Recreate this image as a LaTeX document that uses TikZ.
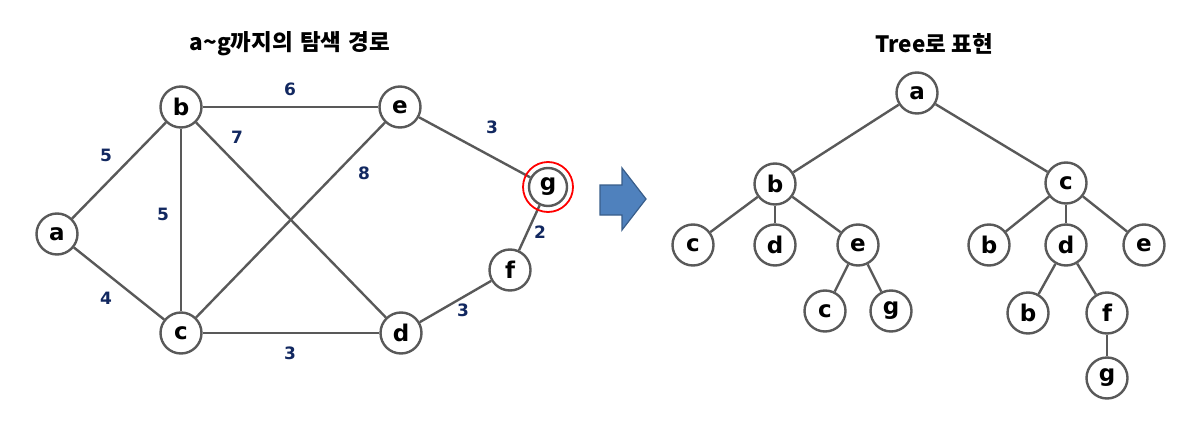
\documentclass[tikz,border=0pt]{standalone}
\usepackage{fontspec}
\setmainfont{DejaVu Sans}[BoldFont={DejaVu Sans Bold}]
\newfontfamily\kofont{Noto Sans CJK KR}
\usetikzlibrary{backgrounds}
\definecolor{edgegray}{RGB}{89,89,89}
\definecolor{labnavy}{RGB}{18,40,96}
\definecolor{arrowblue}{RGB}{79,129,189}
\definecolor{arrowedge}{RGB}{56,93,138}
\begin{document}
\begin{tikzpicture}[x=1pt,y=-1pt,
  vtx/.style={circle,draw=edgegray,line width=2.4pt,fill=white,minimum size=41pt,inner sep=0pt,font=\bfseries\fontsize{23}{23}\selectfont},
  edge/.style={draw=edgegray,line width=2.4pt},
  wlab/.style={text=labnavy,font=\bfseries\fontsize{17}{17}\selectfont,inner sep=0pt},
  title/.style={font=\kofont\bfseries\fontsize{22.5}{22.5}\selectfont,inner sep=0pt}]
\useasboundingbox (0,0) rectangle (1204,428);
% titles
\node[title] (t1) at (290,44) {a\char"007E g까지의\hspace{2pt} 탐색\hspace{2pt} 경로};
\node[title] (t2) at (934,44) {Tree로 표현};
% left graph
\node[vtx] (a) at (57,234) {a};
\node[vtx] (b) at (181,107) {b};
\node[vtx] (c) at (181,333) {c};
\node[vtx] (e) at (400,107) {e};
\node[vtx] (d) at (401,333) {d};
\node[vtx] (f) at (510,270) {f};
\node[vtx,minimum size=38pt] (g) at (548,187) {g};
\draw[red,line width=1.8pt] (g.center) circle (25pt);
\begin{scope}[on background layer]
\path[edge] (a) -- (b);
\path[edge] (a) -- (c);
\path[edge] (b) -- (c);
\path[edge] (b) -- (e);
\path[edge] (b) -- (d);
\path[edge] (c) -- (e);
\path[edge] (c) -- (d);
\path[edge] (e) -- (g);
\path[edge] (f) -- (g);
\path[edge] (d) -- (f);
\end{scope}
\node[wlab] (l1) at (106,155) {5};
\node[wlab] (l2) at (163,214) {5};
\node[wlab] (l3) at (106,298) {4};
\node[wlab] (l4) at (290,89) {6};
\node[wlab] (l5) at (237,137) {7};
\node[wlab] (l6) at (364,173) {8};
\node[wlab] (l7) at (492,127) {3};
\node[wlab] (l8) at (540,232) {2};
\node[wlab] (l9) at (463,310) {3};
\node[wlab] (l10) at (290,353) {3};
% arrow
\draw[draw=arrowedge,fill=arrowblue,line width=1.2pt,line join=miter]
  (600,185) -- (622,185) -- (622,168) -- (646,199) -- (622,230) -- (622,215) -- (600,215) -- cycle;
% tree
\node[vtx] (ta) at (917,93) {a};
\node[vtx] (tb) at (775,184) {b};
\node[vtx] (tc) at (1066,183) {c};
\node[vtx] (tbc) at (693,245) {c};
\node[vtx] (tbd) at (775,245) {d};
\node[vtx] (tbe) at (858,245) {e};
\node[vtx] (tbec) at (825,311) {c};
\node[vtx] (tbeg) at (891,311) {g};
\node[vtx] (tcb) at (989,245) {b};
\node[vtx] (tcd) at (1066,245) {d};
\node[vtx] (tce) at (1144,245) {e};
\node[vtx] (tcdb) at (1028,313) {b};
\node[vtx] (tcdf) at (1107,313) {f};
\node[vtx] (tcdfg) at (1107,378) {g};
\begin{scope}[on background layer]
\path[edge] (ta) -- (tb);
\path[edge] (ta) -- (tc);
\path[edge] (tb) -- (tbc);
\path[edge] (tb) -- (tbd);
\path[edge] (tb) -- (tbe);
\path[edge] (tbe) -- (tbec);
\path[edge] (tbe) -- (tbeg);
\path[edge] (tc) -- (tcb);
\path[edge] (tc) -- (tcd);
\path[edge] (tc) -- (tce);
\path[edge] (tcd) -- (tcdb);
\path[edge] (tcd) -- (tcdf);
\path[edge] (tcdf) -- (tcdfg);
\end{scope}
\end{tikzpicture}
\end{document}
